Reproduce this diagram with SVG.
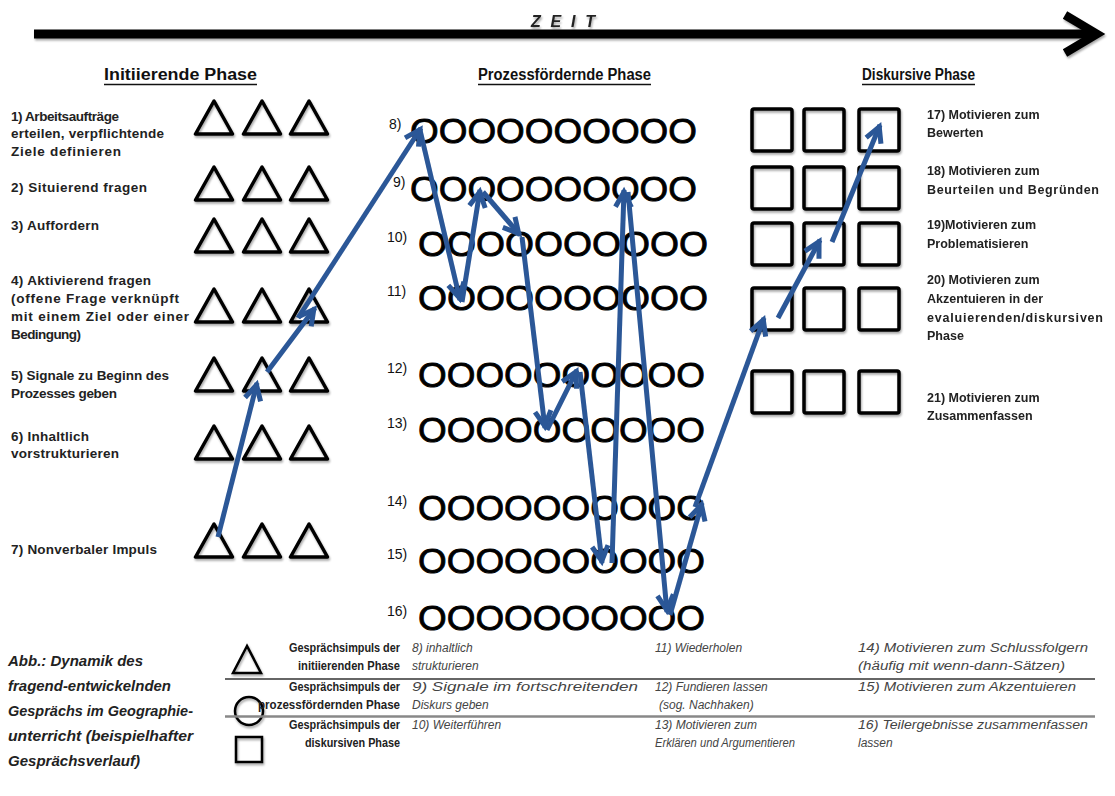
<svg xmlns="http://www.w3.org/2000/svg" width="1115" height="796" viewBox="0 0 1115 796">
<style>
.lbl{font-family:"Liberation Sans",Arial,sans-serif;font-weight:bold;font-size:13.5px;fill:#222}
.rl{font-family:"Liberation Sans",Arial,sans-serif;font-weight:bold;font-size:12.5px;fill:#222}
.hd{font-family:"Liberation Sans",Arial,sans-serif;font-weight:bold;font-size:16px;fill:#111}
.num{font-family:"Liberation Sans",Arial,sans-serif;font-size:14px;fill:#111}
.oo{font-family:"Liberation Sans",Arial,sans-serif;font-size:35px;fill:#000;stroke:#000;stroke-width:0.8}
.leg{font-family:"Liberation Sans",Arial,sans-serif;font-weight:bold;font-size:12px;fill:#222}
.it{font-family:"Liberation Sans",Arial,sans-serif;font-style:italic;font-size:12px;fill:#444}
.cap{font-family:"Liberation Sans",Arial,sans-serif;font-weight:bold;font-style:italic;font-size:14.5px;fill:#222}
.tri,.sq{fill:none;stroke:#000;stroke-width:3.5;stroke-linejoin:round}
.arr{fill:none;stroke:#2b5797;stroke-width:5;marker-end:url(#ah)}
</style>
<defs>
<filter id="sh" x="-20%" y="-20%" width="150%" height="150%"><feDropShadow dx="1" dy="2" stdDeviation="1.2" flood-color="#000" flood-opacity="0.35"/></filter>
<marker id="ah" viewBox="-22 -12 26 24" refX="0" refY="0" markerWidth="26" markerHeight="24" markerUnits="userSpaceOnUse" orient="auto"><path d="M-17,-8 L-2,0 L-17,8" fill="none" stroke="#2b5797" stroke-width="5"/></marker>
<path id="t" d="M0,0 L-18.5,33 L18.5,33 Z"/>
</defs>
<rect width="1115" height="796" fill="#fff"/>

<g id="timeline" filter="url(#sh)">
<line x1="34" y1="34" x2="1094" y2="34" stroke="#000" stroke-width="9"/>
<polyline points="1065,15 1097,34 1065,53" fill="none" stroke="#000" stroke-width="8.5"/>
<text x="531" y="27" class="cap" style="font-size:16px" textLength="64">Z E I T</text>
</g>

<g id="headings">
<text x="104" y="80" class="hd" textLength="153" lengthAdjust="spacingAndGlyphs">Initiierende Phase</text>
<line x1="104" y1="84.5" x2="257" y2="84.5" stroke="#111" stroke-width="1.4"/>
<text x="478" y="80" class="hd" textLength="173" lengthAdjust="spacingAndGlyphs">Prozessfördernde Phase</text>
<line x1="478" y1="84.5" x2="651" y2="84.5" stroke="#111" stroke-width="1.4"/>
<text x="862" y="80" class="hd" textLength="113" lengthAdjust="spacingAndGlyphs">Diskursive Phase</text>
<line x1="862" y1="84.5" x2="975" y2="84.5" stroke="#111" stroke-width="1.4"/>
</g>

<g id="initiierende-labels" class="lbl">
<text x="11" y="121" textLength="108">1) Arbeitsaufträge</text>
<text x="11" y="138" textLength="153">erteilen, verpflichtende</text>
<text x="11" y="156" textLength="110">Ziele definieren</text>
<text x="11" y="192" textLength="136">2) Situierend fragen</text>
<text x="11" y="230" textLength="88">3) Auffordern</text>
<text x="11" y="285" textLength="140">4) Aktivierend fragen</text>
<text x="11" y="303" textLength="168">(offene Frage verknüpft</text>
<text x="11" y="321" textLength="178">mit einem Ziel oder einer</text>
<text x="11" y="339" textLength="70">Bedingung)</text>
<text x="11" y="380" textLength="158">5) Signale zu Beginn des</text>
<text x="11" y="398" textLength="106">Prozesses geben</text>
<text x="11" y="441" textLength="78">6) Inhaltlich</text>
<text x="11" y="458" textLength="108">vorstrukturieren</text>
<text x="11" y="554" textLength="146">7) Nonverbaler Impuls</text>
</g>

<g id="triangles" class="tri" filter="url(#sh)">
<use href="#t" x="214" y="101"/><use href="#t" x="262" y="101"/><use href="#t" x="309" y="101"/>
<use href="#t" x="214" y="167"/><use href="#t" x="262" y="167"/><use href="#t" x="309" y="167"/>
<use href="#t" x="214" y="219"/><use href="#t" x="262" y="219"/><use href="#t" x="309" y="219"/>
<use href="#t" x="214" y="289"/><use href="#t" x="262" y="289"/><use href="#t" x="309" y="289"/>
<use href="#t" x="214" y="358"/><use href="#t" x="262" y="358"/><use href="#t" x="309" y="358"/>
<use href="#t" x="214" y="426"/><use href="#t" x="262" y="426"/><use href="#t" x="309" y="426"/>
<use href="#t" x="214" y="524"/><use href="#t" x="262" y="524"/><use href="#t" x="309" y="524"/>
</g>

<g id="prozess-rows">
<text x="389" y="129" class="num">8)</text>
<text x="393" y="187" class="num">9)</text>
<text x="387" y="242" class="num">10)</text>
<text x="387" y="296" class="num">11)</text>
<text x="387" y="373" class="num">12)</text>
<text x="387" y="428" class="num">13)</text>
<text x="387" y="506" class="num">14)</text>
<text x="387" y="559" class="num">15)</text>
<text x="387" y="616" class="num">16)</text>
<text x="410" y="143" class="oo" textLength="287" lengthAdjust="spacingAndGlyphs">OOOOOOOOOO</text>
<text x="410" y="201" class="oo" textLength="287" lengthAdjust="spacingAndGlyphs">OOOOOOOOOO</text>
<text x="418" y="256" class="oo" textLength="290" lengthAdjust="spacingAndGlyphs">OOOOOOOOOO</text>
<text x="418" y="310" class="oo" textLength="290" lengthAdjust="spacingAndGlyphs">OOOOOOOOOO</text>
<text x="418" y="387" class="oo" textLength="287" lengthAdjust="spacingAndGlyphs">OOOOOOOOOO</text>
<text x="418" y="442" class="oo" textLength="287" lengthAdjust="spacingAndGlyphs">OOOOOOOOOO</text>
<text x="418" y="520" class="oo" textLength="287" lengthAdjust="spacingAndGlyphs">OOOOOOOOOO</text>
<text x="418" y="573" class="oo" textLength="287" lengthAdjust="spacingAndGlyphs">OOOOOOOOOO</text>
<text x="418" y="630" class="oo" textLength="287" lengthAdjust="spacingAndGlyphs">OOOOOOOOOO</text>
</g>

<g id="squares" class="sq" filter="url(#sh)">
<rect x="752" y="109" width="40" height="42" rx="2"/><rect x="804" y="109" width="40" height="42" rx="2"/><rect x="859" y="109" width="40" height="42" rx="2"/>
<rect x="752" y="167" width="40" height="42" rx="2"/><rect x="804" y="167" width="40" height="42" rx="2"/><rect x="859" y="167" width="40" height="42" rx="2"/>
<rect x="752" y="223" width="40" height="42" rx="2"/><rect x="804" y="223" width="40" height="42" rx="2"/><rect x="859" y="223" width="40" height="42" rx="2"/>
<rect x="752" y="288" width="40" height="42" rx="2"/><rect x="804" y="288" width="40" height="42" rx="2"/><rect x="859" y="288" width="40" height="42" rx="2"/>
<rect x="752" y="371" width="40" height="42" rx="2"/><rect x="804" y="371" width="40" height="42" rx="2"/><rect x="859" y="371" width="40" height="42" rx="2"/>
</g>

<g id="diskursive-labels" class="rl">
<text x="927" y="119">17) Motivieren zum</text>
<text x="927" y="137">Bewerten</text>
<text x="927" y="175">18) Motivieren zum</text>
<text x="927" y="194" textLength="172">Beurteilen und Begründen</text>
<text x="927" y="229">19)Motivieren zum</text>
<text x="927" y="248">Problematisieren</text>
<text x="927" y="284">20) Motivieren zum</text>
<text x="927" y="303">Akzentuieren in der</text>
<text x="927" y="322" textLength="176">evaluierenden/diskursiven</text>
<text x="927" y="340">Phase</text>
<text x="927" y="402">21) Motivieren zum</text>
<text x="927" y="420">Zusammenfassen</text>
</g>

<g id="connectors" class="arr">
<line x1="218" y1="537" x2="257" y2="383"/>
<line x1="267" y1="372" x2="315" y2="308"/>
<line x1="298" y1="318" x2="421" y2="128"/>
<line x1="420" y1="130" x2="460" y2="300"/>
<line x1="462" y1="302" x2="480" y2="190"/>
<line x1="483" y1="192" x2="520" y2="235"/>
<line x1="522" y1="237" x2="545" y2="428"/>
<line x1="547" y1="430" x2="577" y2="370"/>
<line x1="580" y1="372" x2="602" y2="563"/>
<line x1="612" y1="563" x2="624" y2="190"/>
<line x1="628" y1="192" x2="667" y2="612"/>
<line x1="670" y1="615" x2="702" y2="503"/>
<line x1="695" y1="507" x2="764" y2="318"/>
<line x1="778" y1="318" x2="820" y2="240"/>
<line x1="832" y1="242" x2="880" y2="125"/>
</g>

<g id="legend">
<path d="M247,646 L233,673 L261,673 Z" fill="none" stroke="#000" stroke-width="2.5" filter="url(#sh)"/>
<circle cx="249" cy="711" r="14" fill="none" stroke="#000" stroke-width="2.5" filter="url(#sh)"/>
<rect x="236" y="737" width="26" height="25" fill="none" stroke="#000" stroke-width="2.5" filter="url(#sh)"/>
<line x1="225" y1="679" x2="1095" y2="679" stroke="#333" stroke-width="1.5"/>
<line x1="225" y1="716.5" x2="1095" y2="716.5" stroke="#888" stroke-width="2.5"/>
<text x="400" y="652" class="leg" text-anchor="end" textLength="111" lengthAdjust="spacingAndGlyphs">Gesprächsimpuls der</text>
<text x="400" y="670" class="leg" text-anchor="end" textLength="102" lengthAdjust="spacingAndGlyphs">initiierenden  Phase</text>
<text x="400" y="691" class="leg" text-anchor="end" textLength="111" lengthAdjust="spacingAndGlyphs">Gesprächsimpuls der</text>
<text x="400" y="709" class="leg" text-anchor="end" textLength="142" lengthAdjust="spacingAndGlyphs">prozessfördernden Phase</text>
<text x="400" y="729" class="leg" text-anchor="end" textLength="111" lengthAdjust="spacingAndGlyphs">Gesprächsimpuls der</text>
<text x="400" y="747" class="leg" text-anchor="end" textLength="95" lengthAdjust="spacingAndGlyphs">diskursiven Phase</text>
<text x="412" y="652" class="it">8) inhaltlich</text>
<text x="412" y="670" class="it">strukturieren</text>
<text x="412" y="691" class="it" textLength="226" lengthAdjust="spacingAndGlyphs">9) Signale im fortschreitenden</text>
<text x="412" y="709" class="it">Diskurs geben</text>
<text x="412" y="729" class="it">10) Weiterführen</text>
<text x="655" y="652" class="it">11) Wiederholen</text>
<text x="655" y="691" class="it">12) Fundieren lassen</text>
<text x="659" y="709" class="it">(sog. Nachhaken)</text>
<text x="655" y="729" class="it">13) Motivieren zum</text>
<text x="655" y="747" class="it" textLength="140" lengthAdjust="spacingAndGlyphs">Erklären und Argumentieren</text>
<text x="858" y="652" class="it" textLength="230" lengthAdjust="spacingAndGlyphs">14) Motivieren zum Schlussfolgern</text>
<text x="858" y="670" class="it" textLength="207" lengthAdjust="spacingAndGlyphs">(häufig mit wenn-dann-Sätzen)</text>
<text x="858" y="691" class="it" textLength="218" lengthAdjust="spacingAndGlyphs">15) Motivieren zum Akzentuieren</text>
<text x="858" y="729" class="it" textLength="230" lengthAdjust="spacingAndGlyphs">16) Teilergebnisse zusammenfassen</text>
<text x="858" y="747" class="it">lassen</text>
</g>

<g id="caption" class="cap">
<text x="8" y="666" textLength="135" lengthAdjust="spacingAndGlyphs">Abb.: Dynamik des</text>
<text x="8" y="691" textLength="163" lengthAdjust="spacingAndGlyphs">fragend-entwickelnden</text>
<text x="8" y="716" textLength="185" lengthAdjust="spacingAndGlyphs">Gesprächs im Geographie-</text>
<text x="8" y="741" textLength="185" lengthAdjust="spacingAndGlyphs">unterricht (beispielhafter</text>
<text x="8" y="766" textLength="132" lengthAdjust="spacingAndGlyphs">Gesprächsverlauf)</text>
</g>
</svg>
